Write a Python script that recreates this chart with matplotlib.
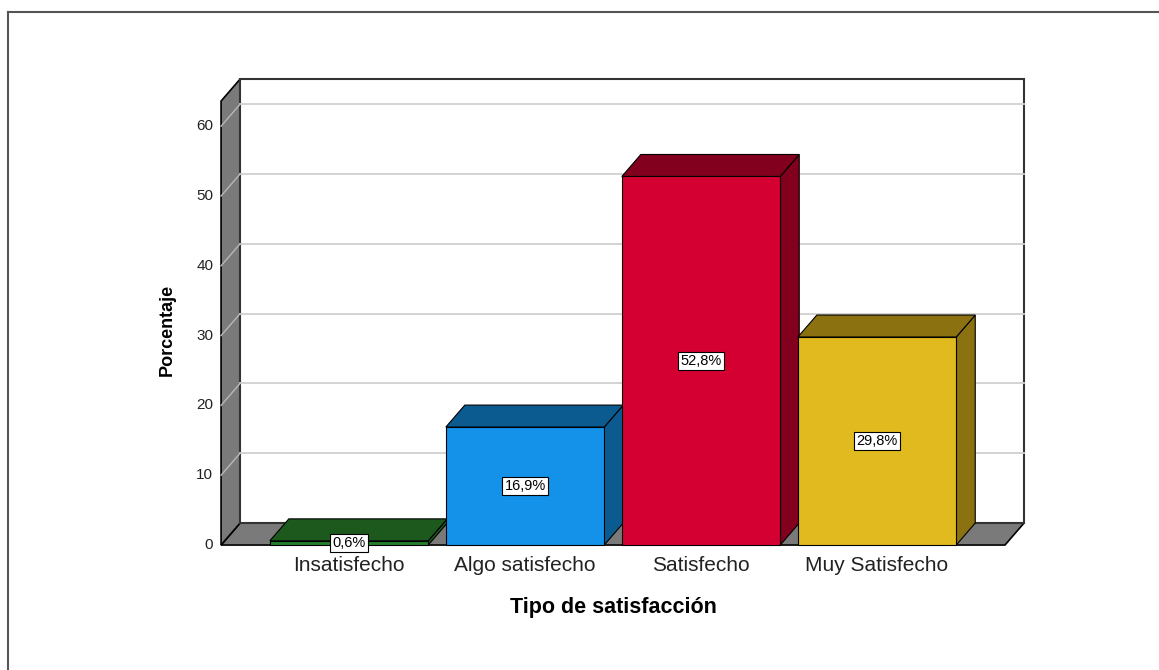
import matplotlib.pyplot as plt
from matplotlib.patches import Polygon
from matplotlib.lines import Line2D

plt.rcParams['font.family'] = ['Liberation Sans', 'DejaVu Sans']

# ------------------------------------------
# datos
# ------------------------------------------
categorias = ["Insatisfecho", "Algo satisfecho", "Satisfecho", "Muy Satisfecho"]
porcentajes = [0.6, 16.9, 52.8, 29.8]
etiquetas = ["0,6%", "16,9%", "52,8%", "29,8%"]
ticks_y = [0, 10, 20, 30, 40, 50, 60]

color_frente = ["#237f2a", "#1491e8", "#d50032", "#e0ba1e"]
color_sombra = ["#1d581d", "#0b5b91", "#82001e", "#8b7110"]

# ------------------------------------------
# geometría del marco 3D (unidades de datos)
# ------------------------------------------
ANCHO = 0.9          # ancho de la barra (en categorías)
DX, DY = 0.108, 3.15  # desplazamiento de profundidad
X_IZQ, X_DER = -0.727, 3.727
Y_TOP = 63.6
GRIS = "#7a7a7a"

fig = plt.figure(figsize=(11.59, 6.70), dpi=100)
ax = fig.add_axes([0, 0, 1, 1])
ax.set_xlim(-1.983, 4.602)
ax.set_ylim(-17.9, 78.08)
ax.axis("off")

# suelo
ax.add_patch(Polygon([(X_IZQ, 0), (X_DER, 0), (X_DER + DX, DY), (X_IZQ + DX, DY)],
                     closed=True, fc=GRIS, ec="black", lw=1.2, zorder=1))
# pared izquierda
ax.add_patch(Polygon([(X_IZQ, 0), (X_IZQ + DX, DY), (X_IZQ + DX, Y_TOP + DY), (X_IZQ, Y_TOP)],
                     closed=True, fc=GRIS, ec="black", lw=1.2, zorder=1))
# pared del fondo
ax.add_patch(Polygon([(X_IZQ + DX, DY), (X_DER + DX, DY), (X_DER + DX, Y_TOP + DY), (X_IZQ + DX, Y_TOP + DY)],
                     closed=True, fc="white", ec="#333333", lw=1.5, zorder=1))

# rejilla
for v in ticks_y[1:]:
    ax.plot([X_IZQ + DX, X_DER + DX], [v + DY, v + DY], color="#d0d0d0", lw=1.3, zorder=2)
    ax.plot([X_IZQ, X_IZQ + DX], [v, v + DY], color="#b8b8b8", lw=1.0, zorder=2)
for v in ticks_y:
    ax.text(X_IZQ - 0.045, v, str(v), ha="right", va="center", fontsize=11, color="#222222")

# barras
for i, (v, cf, cs, et) in enumerate(zip(porcentajes, color_frente, color_sombra, etiquetas)):
    x0, x1 = i - ANCHO / 2, i + ANCHO / 2
    ax.add_patch(Polygon([(x1, 0), (x1 + DX, DY), (x1 + DX, v + DY), (x1, v)],
                         closed=True, fc=cs, ec="black", lw=0.8, zorder=3))
    ax.add_patch(Polygon([(x0, v), (x1, v), (x1 + DX, v + DY), (x0 + DX, v + DY)],
                         closed=True, fc=cs, ec="black", lw=0.8, zorder=3))
    ax.add_patch(Polygon([(x0, 0), (x1, 0), (x1, v), (x0, v)],
                         closed=True, fc=cf, ec="black", lw=0.8, zorder=3))
    ax.text(i, v / 2, et, ha="center", va="center", fontsize=10.5, zorder=5,
            bbox=dict(boxstyle="square,pad=0.15", fc="white", ec="black", lw=0.8))
    ax.text(i, -3.0, categorias[i], ha="center", va="center", fontsize=15, color="#222222")

ax.text(1.5, -9.0, "Tipo de satisfacción", ha="center", va="center",
        fontsize=15.5, fontweight="bold")
ax.text(-1.034, 30.8, "Porcentaje", ha="center", va="center", rotation=90,
        fontsize=13, fontweight="bold")

# marco exterior
fig.add_artist(Line2D([7.5 / 1159, 7.5 / 1159], [0, 1 - 11.5 / 670], color="#555555", lw=1.5))
fig.add_artist(Line2D([7.5 / 1159, 1], [1 - 11.5 / 670, 1 - 11.5 / 670], color="#555555", lw=1.5))

plt.savefig("out.png", dpi=100)
